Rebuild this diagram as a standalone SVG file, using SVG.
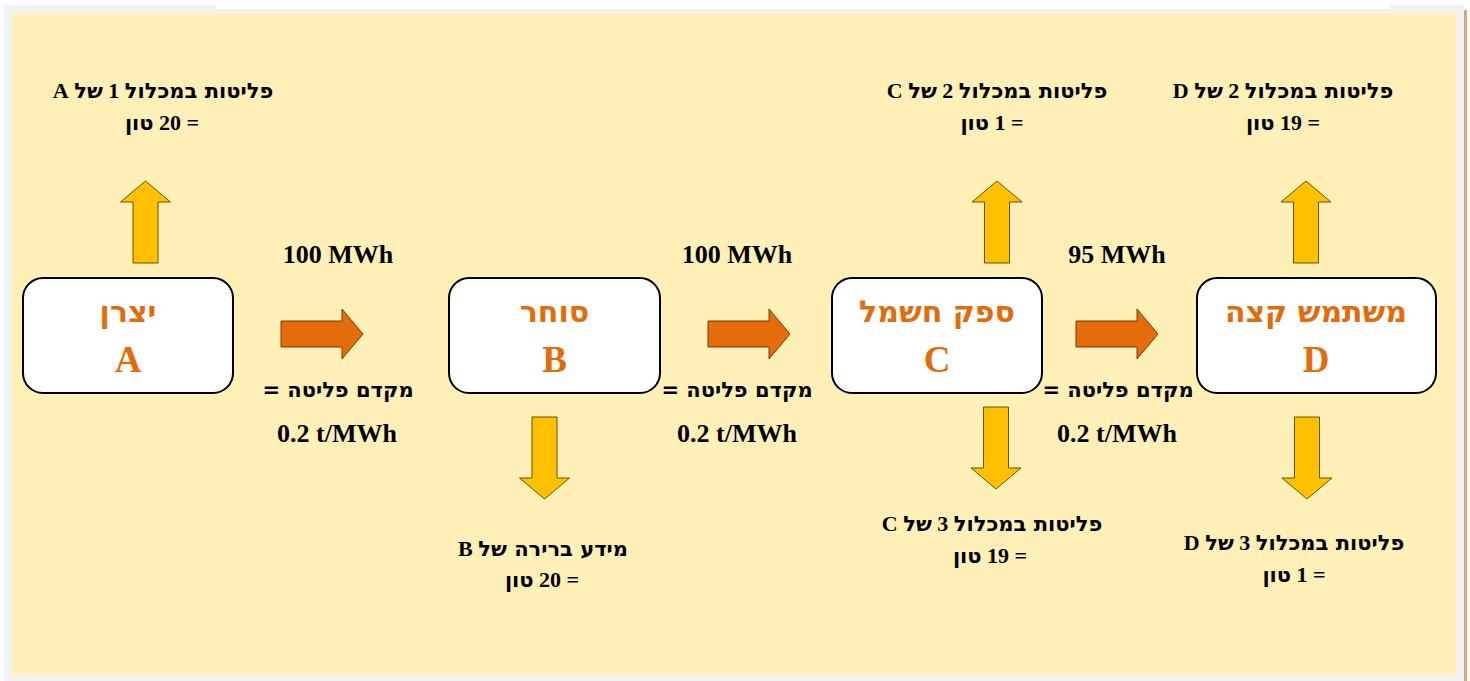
<svg xmlns="http://www.w3.org/2000/svg" xmlns:xlink="http://www.w3.org/1999/xlink" width="1470" height="681" viewBox="0 0 1470 681">
<style>
.t{font-family:"Liberation Serif","Times New Roman",serif;font-weight:bold;fill:#000;text-anchor:middle}
.h{font-family:"DejaVu Sans",sans-serif;font-weight:bold}
.e{font-size:22px}
.e .h{font-size:21px}
.f{font-size:26px}
.k{font-size:21px}
.nh{font-family:"DejaVu Sans",sans-serif;font-weight:bold;fill:#E36C0A;text-anchor:middle;font-size:30px}
.nl{font-family:"Liberation Serif","Times New Roman",serif;font-weight:bold;fill:#E36C0A;text-anchor:middle;font-size:37px}
.box{fill:#fff;stroke:#000;stroke-width:2}
.oa{fill:#E46C0A;stroke:#7a3a05;stroke-width:1}
.ya{fill:#FFC000;stroke:#6b5200;stroke-width:1}
</style>
<defs>
<path id="up" d="M-12.5,82 V21 H-25 L0,0 L25,21 H12.5 V82 Z"/>
<path id="down" d="M-12.5,0 V61 H-25 L0,82 L25,61 H12.5 V0 Z"/>
<path id="right" d="M0,12 H61 V0 L82,25 L61,50 V38 H0 Z"/>
</defs>
<rect x="0" y="0" width="1470" height="681" fill="#fff"/>
<path d="M4,5 H216 V9 H1390 V5 H1464 V681 H4 Z" fill="#f2f2f2"/>
<rect x="1464" y="10" width="3" height="671" fill="#D2A884"/>
<rect x="12" y="13" width="1444" height="662" fill="#FFF0B8"/>

<g id="connectors">
<use href="#right" class="oa" transform="translate(281,309)"/>
<use href="#right" class="oa" transform="translate(708,309)"/>
<use href="#right" class="oa" transform="translate(1076,309)"/>
<use href="#up" class="ya" transform="translate(145.5,181)"/>
<use href="#up" class="ya" transform="translate(997,181)"/>
<use href="#up" class="ya" transform="translate(1306,181)"/>
<use href="#down" class="ya" transform="translate(544.5,417)"/>
<use href="#down" class="ya" transform="translate(996,407)"/>
<use href="#down" class="ya" transform="translate(1307,417)"/>
</g>

<g id="nodeA">
<rect class="box" x="23" y="278" width="210" height="115" rx="20"/>
<text class="nh" x="128" y="322" direction="rtl">יצרן</text>
<text class="nl" x="128" y="372">A</text>
</g>
<g id="nodeB">
<rect class="box" x="449" y="278" width="211" height="115" rx="20"/>
<text class="nh" x="554.5" y="322" direction="rtl">סוחר</text>
<text class="nl" x="554.5" y="372">B</text>
</g>
<g id="nodeC">
<rect class="box" x="832" y="278" width="210" height="115" rx="20"/>
<text class="nh" x="937" y="322" direction="rtl">ספק חשמל</text>
<text class="nl" x="937" y="372">C</text>
</g>
<g id="nodeD">
<rect class="box" x="1197" y="278" width="239" height="115" rx="20"/>
<text class="nh" x="1316" y="322" direction="rtl">משתמש קצה</text>
<text class="nl" x="1316" y="372">D</text>
</g>

<g id="labels">
<text class="t e" x="163" y="98" direction="rtl"><tspan class="h">פליטות במכלול</tspan> 1 <tspan class="h">של</tspan> A</text>
<text class="t e" x="162" y="130" direction="rtl">= 20 <tspan class="h">טון</tspan></text>
<text class="t e" x="997" y="98" direction="rtl"><tspan class="h">פליטות במכלול</tspan> 2 <tspan class="h">של</tspan> C</text>
<text class="t e" x="992" y="130" direction="rtl">= 1 <tspan class="h">טון</tspan></text>
<text class="t e" x="1283" y="98" direction="rtl"><tspan class="h">פליטות במכלול</tspan> 2 <tspan class="h">של</tspan> D</text>
<text class="t e" x="1283" y="130" direction="rtl">= 19 <tspan class="h">טון</tspan></text>
<text class="t e" x="543" y="556" direction="rtl"><tspan class="h">מידע ברירה של</tspan> B</text>
<text class="t e" x="542" y="587" direction="rtl">= 20 <tspan class="h">טון</tspan></text>
<text class="t e" x="992" y="531" direction="rtl"><tspan class="h">פליטות במכלול</tspan> 3 <tspan class="h">של</tspan> C</text>
<text class="t e" x="990" y="563" direction="rtl">= 19 <tspan class="h">טון</tspan></text>
<text class="t e" x="1294" y="550" direction="rtl"><tspan class="h">פליטות במכלול</tspan> 3 <tspan class="h">של</tspan> D</text>
<text class="t e" x="1294" y="582" direction="rtl">= 1 <tspan class="h">טון</tspan></text>

<text class="t f" x="338" y="263">100 MWh</text>
<text class="t f" x="737" y="263">100 MWh</text>
<text class="t f" x="1117" y="263">95 MWh</text>
<text class="t k h" x="338" y="397" direction="rtl">מקדם פליטה =</text>
<text class="t k h" x="737" y="397" direction="rtl">מקדם פליטה =</text>
<text class="t k h" x="1118" y="397" direction="rtl">מקדם פליטה =</text>
<text class="t f" x="337" y="442">0.2 t/MWh</text>
<text class="t f" x="737" y="442">0.2 t/MWh</text>
<text class="t f" x="1117" y="442">0.2 t/MWh</text>
</g>
</svg>
